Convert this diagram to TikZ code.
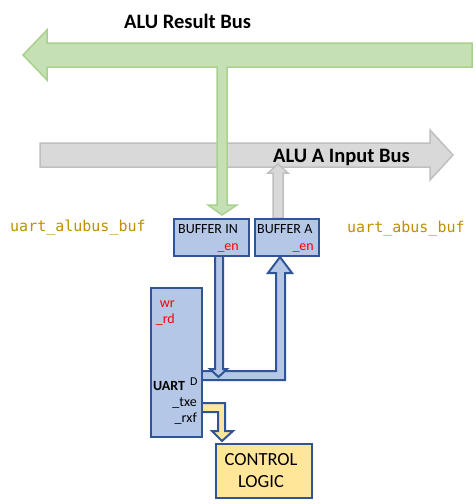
\documentclass[tikz,border=0pt]{standalone}
\usepackage{fontspec}
\setmainfont{Carlito}
\newfontfamily\monof{DejaVu Sans Mono}
\usetikzlibrary{calc}
\definecolor{gfill}{HTML}{C5E0B4}
\definecolor{gline}{HTML}{A9D18E}
\definecolor{grfill}{HTML}{D9D9D9}
\definecolor{grline}{HTML}{BFBFBF}
\definecolor{bfill}{HTML}{B4C7E7}
\definecolor{bline}{HTML}{2F5597}
\definecolor{yfill}{HTML}{FFE699}
\definecolor{gold}{HTML}{BF9000}
\begin{document}
\begin{tikzpicture}[x=1pt,y=-1pt,
  box/.style={draw=bline, fill=bfill, line width=2.4pt, inner sep=0pt, anchor=north west},
  ybox/.style={box, fill=yfill},
  bluearrow/.style={draw=bline, fill=bfill, line width=2pt, line join=miter},
  yarrow/.style={draw=bline, fill=yfill, line width=2pt, line join=miter},
  greenarrow/.style={draw=gline, fill=gfill, line width=1.5pt},
  grayarrow/.style={draw=grline, fill=grfill, line width=1.5pt},
  bustext/.style={font=\fontsize{20.5}{24}\selectfont\bfseries, inner sep=0pt},
  boxtext/.style={font=\fontsize{14}{16}\selectfont, inner sep=0pt},
  redtext/.style={boxtext, text=red},
  monotext/.style={font=\monof\fontsize{15}{17}\selectfont, text=gold, inner sep=0pt}
]
\useasboundingbox (0,0) rectangle (475,504);
\fill[white] (0,0) rectangle (475,504);

% ALU A input bus (gray)
\draw[grayarrow] (40,143) -- (430,143) -- (430,130) -- (453,155) -- (430,180) -- (430,167) -- (40,167) -- cycle;
\node[bustext, anchor=base west] (abustext) at (273,162) {ALU A Input Bus};

% boxes (positions)
\path (173,218) node[box, minimum width=75pt, minimum height=37pt] (bufin) {};
\path (254,218) node[box, minimum width=64pt, minimum height=37pt] (bufa) {};

% gray up arrow from buffer A to A bus
\draw[grayarrow] (273,218) -- (273,173) -- (268,173) -- (278,164) -- (288,173) -- (283,173) -- (283,218) -- cycle;

% ALU result bus (green) with stem into buffer in
\draw[greenarrow] (472,43) -- (47,43) -- (47,30) -- (23,55) -- (47,80) -- (47,67) -- (217,67) -- (217,205) -- (208,205) -- (222,215) -- (237,205) -- (227,205) -- (227,67) -- (472,67) -- cycle;
\node[bustext, anchor=base west] (rbustext) at (124,28) {ALU Result Bus};

% labels
\node[monotext, anchor=base west] (lblin) at (10,231) {uart\_alubus\_buf};
\node[monotext, anchor=base west] (lbla) at (347,232) {uart\_abus\_buf};

% bent blue arrow UART D -> buffer A
\draw[bluearrow] (201,371) -- (276,371) -- (276,273) -- (268,273) -- (280,257) -- (292,273) -- (285,273) -- (285,380) -- (201,380) -- cycle;
% blue arrow buffer in -> UART D
\draw[bluearrow] (215,255) -- (215,369) -- (210,369) -- (218.5,377) -- (227,369) -- (223,369) -- (223,255) -- cycle;
% yellow arrow UART -> control logic
\draw[yarrow] (201,403) -- (225,403) -- (225,431) -- (233,431) -- (222,441) -- (212,431) -- (218,431) -- (218,412) -- (201,412) -- cycle;

% redraw boxes over arrow ends
\node[box, minimum width=75pt, minimum height=37pt] (bufin2) at (bufin.north west) {};
\node[box, minimum width=64pt, minimum height=37pt] (bufa2) at (bufa.north west) {};
\node[box, minimum width=51pt, minimum height=149pt] (uart) at (150,287) {};
\node[ybox, minimum width=96pt, minimum height=54pt] (ctrl) at (215,443) {};

% box texts
\node[boxtext, anchor=base west] (t1) at (178,233) {BUFFER IN};
\node[redtext, anchor=base east] (t2) at (239,250) {\_en};
\node[boxtext, anchor=base west] (t3) at (257,233) {BUFFER A};
\node[redtext, anchor=base east] (t4) at (314,250) {\_en};
\node[redtext, anchor=base east] (t5) at (175,307) {wr};
\node[redtext, anchor=base east] (t6) at (175,323) {\_rd};
\node[boxtext, font=\fontsize{14}{16}\selectfont\bfseries, anchor=base west] (t7) at (153,390) {UART};
\node[boxtext, font=\fontsize{12}{14}\selectfont, anchor=base west] (t8) at (190,385) {D};
\node[boxtext, anchor=base east] (t9) at (197,406) {\_txe};
\node[boxtext, anchor=base east] (t10) at (197,422) {\_rxf};
\node[font=\fontsize{18.5}{22}\selectfont, inner sep=0pt, anchor=base] (t11) at (261,465) {CONTROL};
\node[font=\fontsize{18.5}{22}\selectfont, inner sep=0pt, anchor=base] (t12) at (261,487) {LOGIC};
\end{tikzpicture}
\end{document}
